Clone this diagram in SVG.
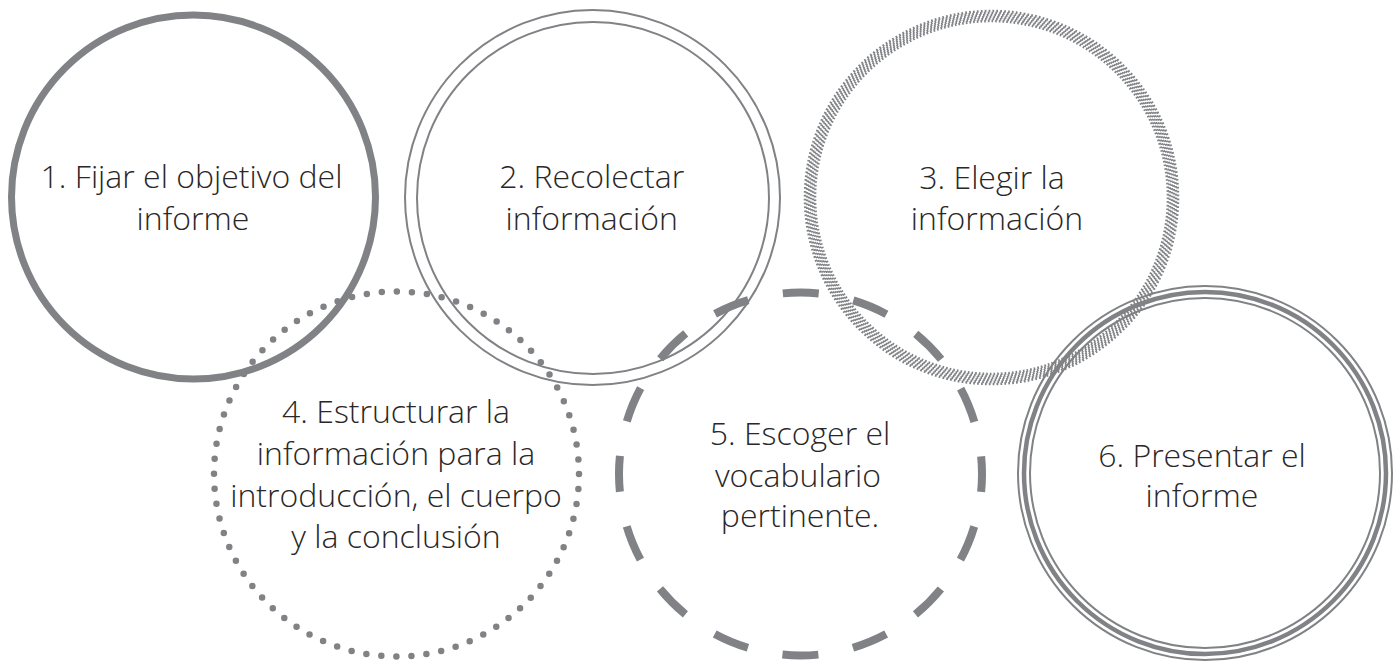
<svg xmlns="http://www.w3.org/2000/svg" width="1400" height="662" viewBox="0 0 1400 662">
  <style>
    .ring { fill: none; stroke: #808285; }
    .solid { stroke-width: 7; }
    .thin { stroke-width: 2; }
    .hatch { stroke-width: 2.6; stroke-dasharray: 0.45 0.55; }
    .dots { stroke-width: 6.5; stroke-linecap: round; stroke-dasharray: 0 15.088; }
    .dash { stroke-width: 8; stroke-dasharray: 36 35.27; stroke-dashoffset: 18; }
    .label { font-family: "Open Sans", "Liberation Sans", sans-serif; font-weight: 300; font-size: 32px; fill: #2a2728; text-anchor: middle; }
  </style>
  <rect width="1400" height="662" fill="#ffffff"/>
  <g id="connectors"/>
  <g id="node1">
    <circle class="ring solid" cx="193.5" cy="197" r="182"/>
  </g>
  <g id="node2">
    <circle class="ring thin" cx="592.5" cy="197.5" r="187.5"/>
    <circle class="ring thin" cx="593" cy="198" r="176"/>
  </g>
  <g id="node3">
    <circle class="ring hatch" cx="991.5" cy="197.5" r="176.5" pathLength="300" stroke-dashoffset="0"/>
    <circle class="ring hatch" cx="991.5" cy="197.5" r="178.5" pathLength="300" stroke-dashoffset="-0.25"/>
    <circle class="ring hatch" cx="991.5" cy="197.5" r="180.5" pathLength="300" stroke-dashoffset="-0.5"/>
    <circle class="ring hatch" cx="991.5" cy="197.5" r="182.5" pathLength="300" stroke-dashoffset="-0.75"/>
    <circle class="ring hatch" cx="991.5" cy="197.5" r="184.5" pathLength="300" stroke-dashoffset="-1.0"/>
    <circle class="ring hatch" cx="991.5" cy="197.5" r="186.5" pathLength="300" stroke-dashoffset="-1.25"/>
  </g>
  <g id="node6">
    <circle class="ring" stroke-width="2" cx="1205" cy="473" r="187"/>
    <circle class="ring" stroke-width="4.5" cx="1205" cy="473" r="181"/>
    <circle class="ring" stroke-width="2" cx="1205" cy="473" r="175"/>
  </g>
  <g id="node4">
    <circle class="ring dots" cx="396.5" cy="474" r="182.5"/>
  </g>
  <g id="node5">
    <circle class="ring dash" cx="800.5" cy="474" r="181.5"/>
  </g>
  <g id="labels">
    <text class="label" x="191.5" y="188">1. Fijar el objetivo del</text>
    <text class="label" x="193" y="230">informe</text>
    <text class="label" x="591.7" y="188">2. Recolectar</text>
    <text class="label" x="591.7" y="230">información</text>
    <text class="label" x="992" y="189">3. Elegir la</text>
    <text class="label" x="997" y="230">información</text>
    <text class="label" x="396" y="423">4. Estructurar la</text>
    <text class="label" x="396" y="465">información para la</text>
    <text class="label" x="396" y="507">introducción, el cuerpo</text>
    <text class="label" x="396" y="548">y la conclusión</text>
    <text class="label" x="800" y="445">5. Escoger el</text>
    <text class="label" x="798" y="487">vocabulario</text>
    <text class="label" x="800" y="527">pertinente.</text>
    <text class="label" x="1202" y="467">6. Presentar el</text>
    <text class="label" x="1202" y="507">informe</text>
  </g>
</svg>
